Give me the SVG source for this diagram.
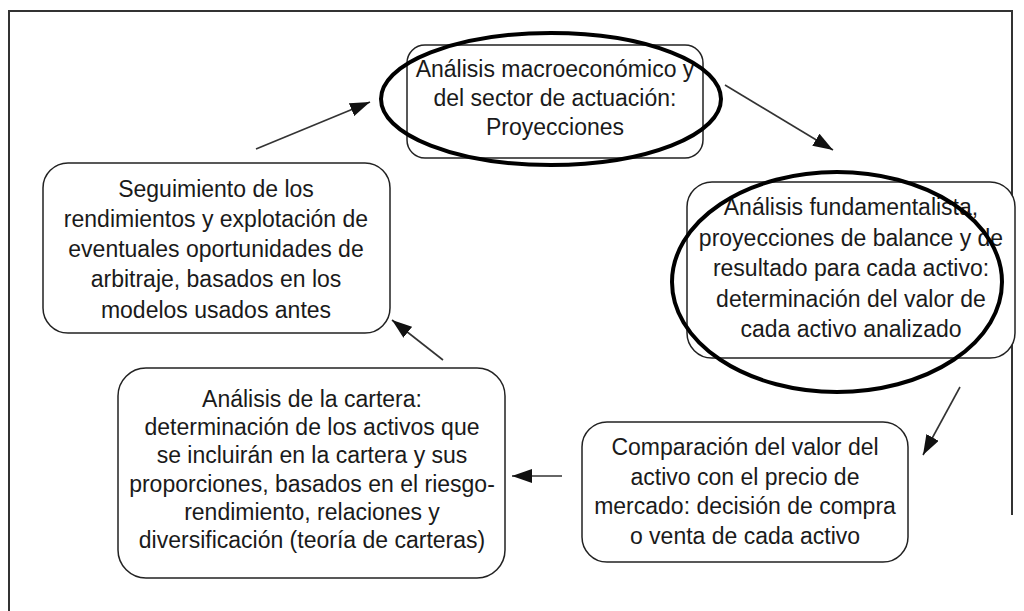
<svg xmlns="http://www.w3.org/2000/svg" width="1024" height="611" viewBox="0 0 1024 611">
<defs>
<style>
.box{fill:#fff;stroke:#222;stroke-width:1.5}
.ell{fill:none;stroke:#000;stroke-width:4}
.t{font-family:"Liberation Sans",Arial,sans-serif;font-size:23px;fill:#1a1a1a;text-anchor:middle}
.c{stroke:#333;stroke-width:1.6;fill:none}
.frame{fill:none;stroke:#333;stroke-width:2}
</style>
<marker id="ah" markerUnits="userSpaceOnUse" markerWidth="22" markerHeight="14" refX="20" refY="7" orient="auto">
<path d="M0,0 L20,7 L0,14 Z" fill="#111"/>
</marker>
</defs>
<rect width="1024" height="611" fill="#fff"/>
<path class="frame" d="M9,611 L9,11 L1012,11 L1012,515"/>

<g id="n1">
<rect class="box" x="407" y="45" width="296" height="113" rx="18"/>
<text class="t" x="555" y="77">Análisis macroeconómico y</text>
<text class="t" x="555" y="106">del sector de actuación:</text>
<text class="t" x="555" y="135">Proyecciones</text>
<ellipse class="ell" cx="551" cy="99" rx="170" ry="66"/>
</g>

<g id="n2">
<rect class="box" x="687" y="182" width="328" height="176" rx="25"/>
<text class="t" x="851" y="215">Análisis fundamentalista,</text>
<text class="t" x="851" y="245.5">proyecciones de balance y de</text>
<text class="t" x="851" y="276">resultado para cada activo:</text>
<text class="t" x="851" y="306.5">determinación del valor de</text>
<text class="t" x="851" y="337">cada activo analizado</text>
<ellipse class="ell" cx="837" cy="282" rx="165" ry="110"/>
</g>

<g id="n3">
<rect class="box" x="43" y="163" width="347" height="170" rx="25"/>
<text class="t" x="216" y="197">Seguimiento de los</text>
<text class="t" x="216" y="227">rendimientos y explotación de</text>
<text class="t" x="216" y="257">eventuales oportunidades de</text>
<text class="t" x="216" y="287">arbitraje, basados en los</text>
<text class="t" x="216" y="318">modelos usados antes</text>
</g>

<g id="n4">
<rect class="box" x="118" y="368" width="387" height="210" rx="28"/>
<text class="t" x="312" y="407">Análisis de la cartera:</text>
<text class="t" x="312" y="435">determinación de los activos que</text>
<text class="t" x="312" y="463">se incluirán en la cartera y sus</text>
<text class="t" x="312" y="491.5">proporciones, basados en el riesgo-</text>
<text class="t" x="312" y="520">rendimiento, relaciones y</text>
<text class="t" x="312" y="548">diversificación (teoría de carteras)</text>
</g>

<g id="n5">
<rect class="box" x="582" y="422" width="326" height="140" rx="25"/>
<text class="t" x="745" y="455">Comparación del valor del</text>
<text class="t" x="745" y="484.5">activo con el precio de</text>
<text class="t" x="745" y="514">mercado: decisión de compra</text>
<text class="t" x="745" y="543.5">o venta de cada activo</text>
</g>

<g id="connectors">
<line class="c" x1="256" y1="149" x2="370" y2="102" marker-end="url(#ah)"/>
<line class="c" x1="725" y1="85" x2="833" y2="150" marker-end="url(#ah)"/>
<line class="c" x1="960" y1="387" x2="923" y2="455" marker-end="url(#ah)"/>
<line class="c" x1="562" y1="476" x2="512" y2="476" marker-end="url(#ah)"/>
<line class="c" x1="443" y1="360" x2="392" y2="320" marker-end="url(#ah)"/>
</g>
</svg>
